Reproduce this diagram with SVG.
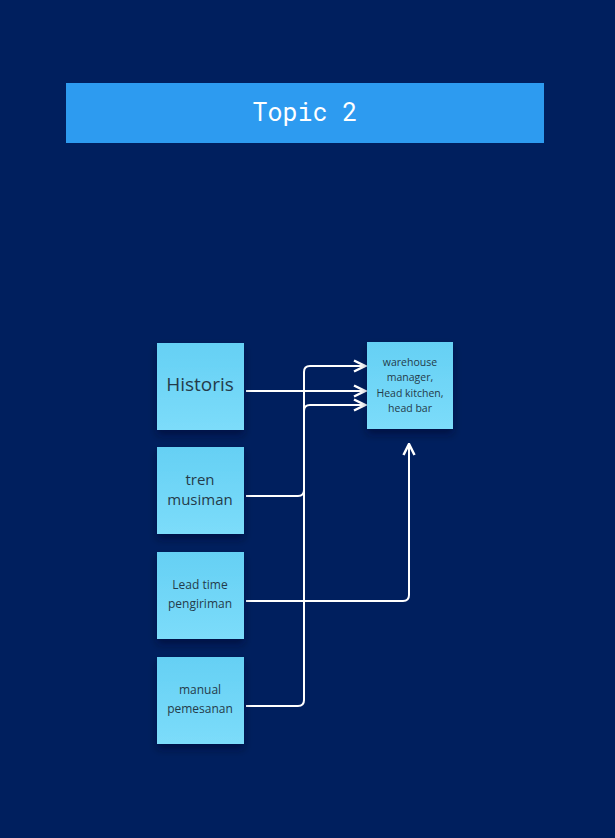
<svg xmlns="http://www.w3.org/2000/svg" width="615" height="838" viewBox="0 0 615 838">
<defs>
<linearGradient id="sticky" x1="0" y1="0" x2="0" y2="1">
<stop offset="0" stop-color="#65D0F4"/>
<stop offset="1" stop-color="#7CDCFA"/>
</linearGradient>
<filter id="shadow" x="-20%" y="-20%" width="140%" height="150%">
<feDropShadow dx="0" dy="5" stdDeviation="4" flood-color="#000820" flood-opacity="0.45"/>
</filter>
<marker id="arrow" viewBox="0 0 14 14" refX="12.5" refY="7" markerWidth="14" markerHeight="14" markerUnits="userSpaceOnUse" orient="auto">
<path d="M1.5,1.5 L12.5,7 L1.5,12.5" fill="none" stroke="#FFFFFF" stroke-width="2.5" stroke-linejoin="miter"/>
</marker>
</defs>
<style>
.note{fill:url(#sticky);filter:url(#shadow)}
.t{font-family:"Open Sans","Noto Sans",sans-serif;fill:#243B4A;text-anchor:middle}
.c{fill:none;stroke:#FFFFFF;stroke-width:2;marker-end:url(#arrow)}
</style>
<rect width="615" height="838" fill="#001F5E"/>
<g id="title">
<rect x="66" y="83" width="478" height="60" fill="#2D9BF0"/>
<text x="305" y="121" font-family="'Roboto Mono','DejaVu Sans Mono','Liberation Mono',monospace" font-size="25" fill="#FFFFFF" text-anchor="middle">Topic 2</text>
</g>
<g id="connectors">
<path class="c" d="M246,391 H365"/>
<path class="c" d="M246,496 H298 Q304,496 304,490 V372 Q304,366 310,366 H365"/>
<path class="c" d="M246,706 H298 Q304,706 304,700 V411 Q304,405 310,405 H365"/>
<path class="c" d="M246,601 H403 Q409,601 409,595 V444"/>
</g>
<g id="historis">
<rect class="note" x="157" y="343" width="87" height="87"/>
<text class="t" x="200" y="391" font-size="19">Historis</text>
</g>
<g id="tren">
<rect class="note" x="157" y="447" width="87" height="87"/>
<text class="t" x="200" y="485" font-size="15">tren</text>
<text class="t" x="200" y="505" font-size="15">musiman</text>
</g>
<g id="leadtime">
<rect class="note" x="157" y="552" width="87" height="87"/>
<text class="t" x="200" y="589" font-size="12">Lead time</text>
<text class="t" x="200" y="608" font-size="12">pengiriman</text>
</g>
<g id="manual">
<rect class="note" x="157" y="657" width="87" height="87"/>
<text class="t" x="200" y="694" font-size="12">manual</text>
<text class="t" x="200" y="713" font-size="12">pemesanan</text>
</g>
<g id="warehouse">
<rect class="note" x="367" y="342" width="86" height="87"/>
<text class="t" x="410" y="366" font-size="10.5">warehouse</text>
<text class="t" x="410" y="381" font-size="10.5">manager,</text>
<text class="t" x="410" y="397" font-size="10.5">Head kitchen,</text>
<text class="t" x="410" y="412" font-size="10.5">head bar</text>
</g>
</svg>
